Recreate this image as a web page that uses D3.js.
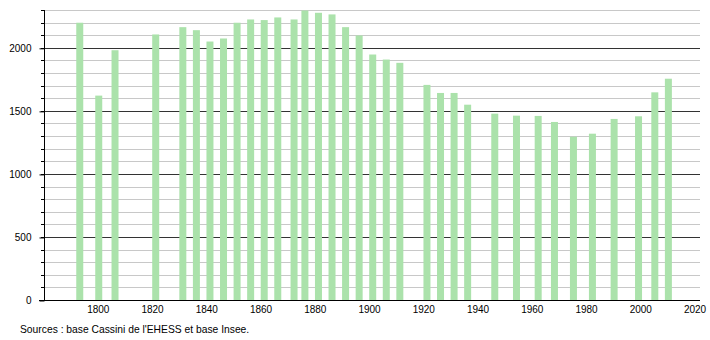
<!DOCTYPE html>
<html lang="fr">
<head>
<meta charset="UTF-8">
<title>Population</title>
<script src="https://d3js.org/d3.v7.min.js"></script>
<style>
  body { margin: 0; background: #fff; }
  svg { display: block; font-family: "Liberation Sans", Arial, sans-serif; }
</style>
</head>
<body>
<svg id="chart" width="710" height="340"></svg>
<script>
// population census years and values
const years = [1793, 1800, 1806, 1821, 1831, 1836, 1841, 1846, 1851, 1856, 1861, 1866,
               1872, 1876, 1881, 1886, 1891, 1896, 1901, 1906, 1911, 1921, 1926, 1931,
               1936, 1946, 1954, 1962, 1968, 1975, 1982, 1990, 1999, 2005, 2010];
const population = [2199, 1621, 1981, 2106, 2164, 2140, 2050, 2074, 2199, 2225, 2220, 2241,
                    2225, 2296, 2278, 2265, 2164, 2098, 1947, 1907, 1881, 1706, 1642, 1642,
                    1549, 1478, 1462, 1460, 1412, 1295, 1319, 1436, 1457, 1647, 1755];
const xTicks = [1800, 1820, 1840, 1860, 1880, 1900, 1920, 1940, 1960, 1980, 2000, 2020];
const yTicks = [0, 500, 1000, 1500, 2000];
const source = "Sources : base Cassini de l'EHESS et base Insee.";

const data = years.map((y, i) => ({ year: y, value: population[i] }));

const svg = d3.select("#chart");
const mLeft = 44, mRight = 695, mTop = 10, mBottom = 300;

const x = d3.scaleLinear().domain([1780, 2020]).range([mLeft, mRight]);
const y = d3.scaleLinear().domain([0, 2300]).range([mBottom, mTop]);

// soft edges like the original bitmap
svg.append("defs").append("filter")
    .attr("id", "soft")
    .append("feGaussianBlur")
    .attr("stdDeviation", "0.6 0.3");

// grid lines every 100
const grid = d3.range(100, 2301, 100);
svg.append("g").selectAll("line")
    .data(grid)
    .enter().append("line")
    .attr("x1", mLeft)
    .attr("x2", 700)
    .attr("y1", d => Math.round(y(d)) + 0.5)
    .attr("y2", d => Math.round(y(d)) + 0.5)
    .attr("stroke", d => d % 500 === 0 ? "#333" : "#c8c8c8")
    .attr("stroke-width", 1);

// bars
const barW = 7;
svg.append("g")
    .attr("filter", "url(#soft)")
    .selectAll("rect")
    .data(data)
    .enter().append("rect")
    .attr("x", d => x(d.year) + 0.5 - barW / 2)
    .attr("y", d => y(d.value))
    .attr("width", barW)
    .attr("height", d => mBottom - y(d.value))
    .attr("fill", "#abe2ab");

// y axis with minor ticks
const yAxis = d3.axisLeft(y)
    .tickValues(yTicks)
    .tickSize(5)
    .tickPadding(8)
    .tickFormat(d3.format("d"));
const ya = svg.append("g")
    .attr("transform", `translate(${mLeft + 0.5},0.5)`)
    .call(yAxis);
ya.select(".domain").remove();
ya.selectAll(".tick line").attr("stroke", "#000");
ya.selectAll("text").attr("font-size", 10).attr("fill", "#000")
    .attr("font-family", "Liberation Sans, Arial, sans-serif");

svg.append("g").selectAll("line")
    .data(grid)
    .enter().append("line")
    .attr("x1", mLeft - 3)
    .attr("x2", mLeft)
    .attr("y1", d => Math.round(y(d)) + 0.5)
    .attr("y2", d => Math.round(y(d)) + 0.5)
    .attr("stroke", "#000");

svg.append("line")
    .attr("x1", mLeft + 0.5).attr("x2", mLeft + 0.5)
    .attr("y1", mTop).attr("y2", mBottom)
    .attr("stroke", "#000");

// x axis
svg.append("line")
    .attr("x1", mLeft - 5).attr("x2", 700)
    .attr("y1", mBottom + 0.5).attr("y2", mBottom + 0.5)
    .attr("stroke", "#000");

svg.append("g").selectAll("text")
    .data(xTicks)
    .enter().append("text")
    .attr("x", d => x(d))
    .attr("y", mBottom + 13)
    .attr("text-anchor", "middle")
    .attr("font-size", 10)
    .text(d => d);

svg.append("text")
    .attr("x", 20)
    .attr("y", 333)
    .attr("font-size", 10.3)
    .text(source);
</script>
</body>
</html>
